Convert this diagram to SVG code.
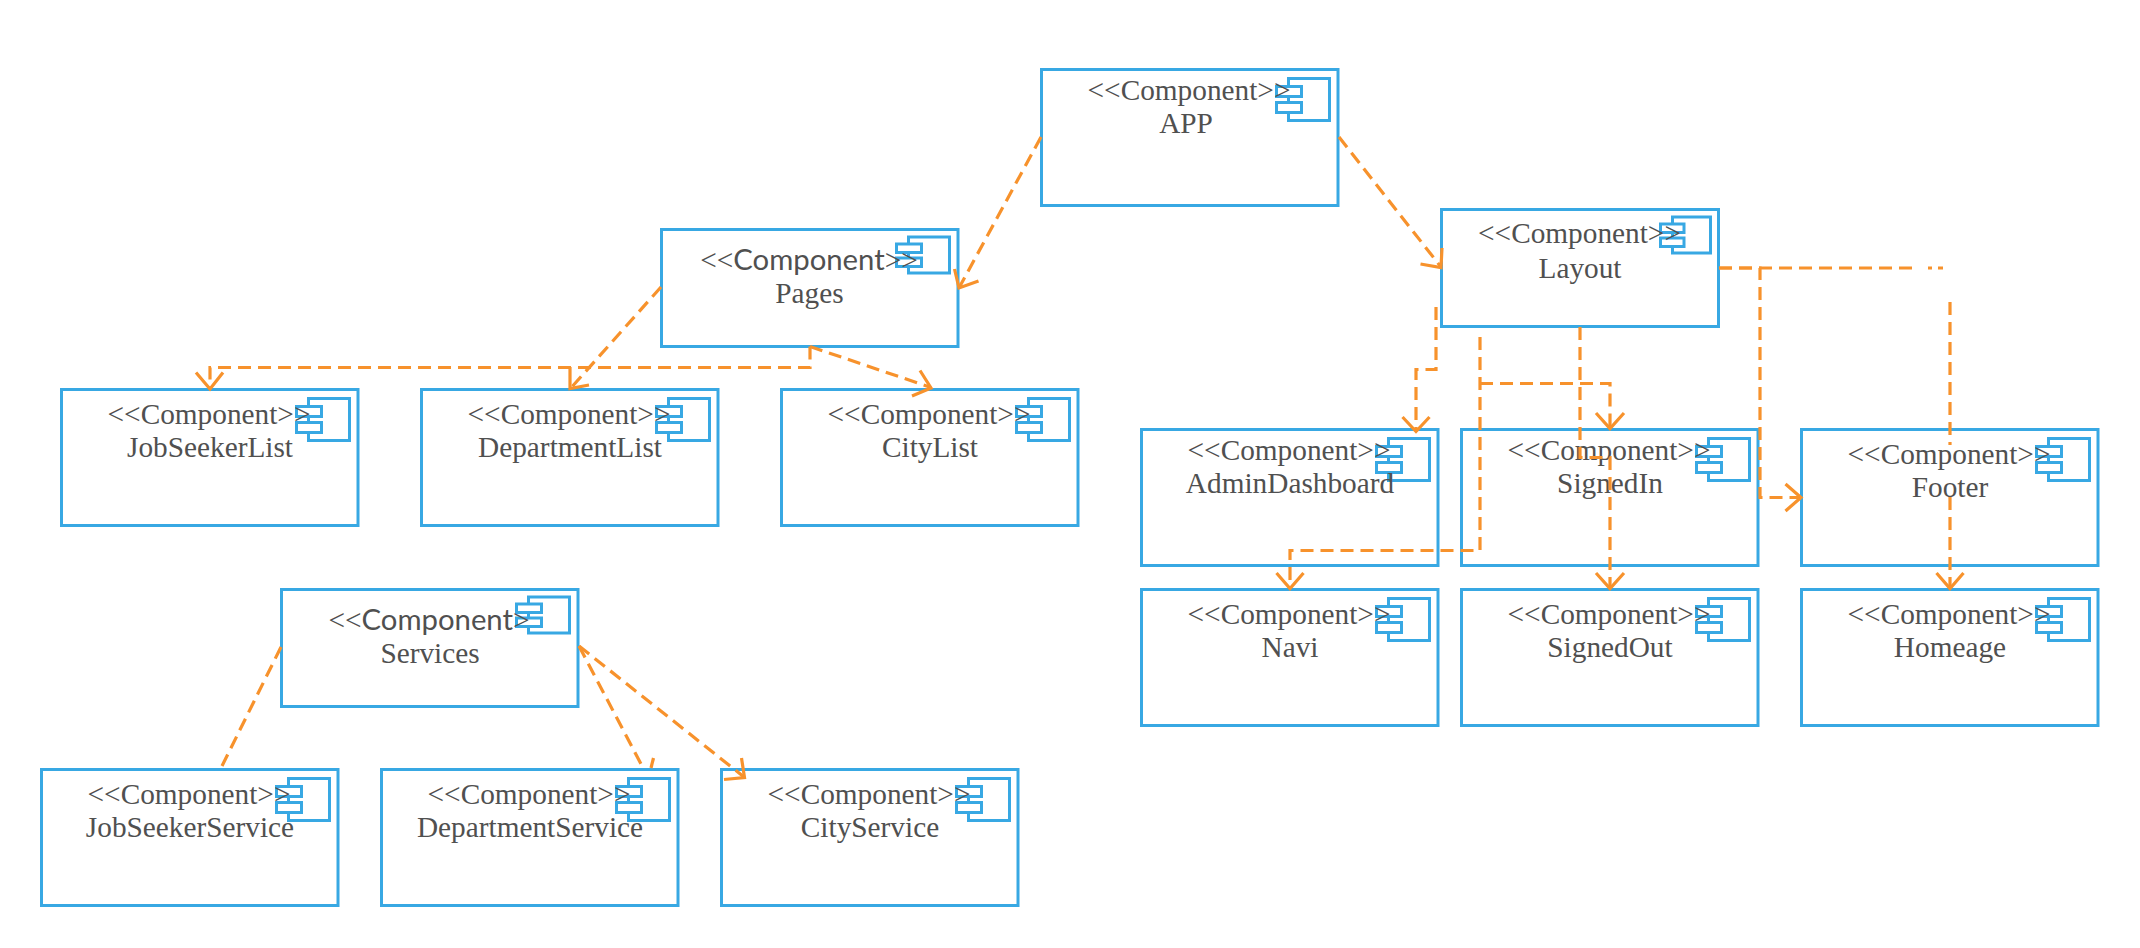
<svg xmlns="http://www.w3.org/2000/svg" width="2140" height="948" viewBox="0 0 2140 948">
<style>
.box{fill:none;stroke:#38a8e3;stroke-width:3}
.ic{fill:none;stroke:#38a8e3;stroke-width:3}
.sm{fill:#fff;stroke:#38a8e3;stroke-width:3}
text{font-family:"Liberation Serif","Times New Roman",serif;font-size:29.3px;fill:#505050;text-anchor:middle}
.sans{font-family:Lato,"Liberation Sans",sans-serif}
.dep{fill:none;stroke:#f7922c;stroke-width:3.2;stroke-dasharray:13 7}
.head{fill:none;stroke:#f7922c;stroke-width:3.2}
</style>
<defs>
<g id="icon"><rect class="ic" x="247" y="9" width="41" height="42"/><rect class="sm" x="235" y="17" width="25" height="10"/><rect class="sm" x="235" y="33" width="25" height="10"/></g>
<g id="iconS"><rect class="ic" x="247" y="7.5" width="41" height="36"/><rect class="sm" x="235" y="14.5" width="25" height="8.5"/><rect class="sm" x="235" y="28.5" width="25" height="8.5"/></g>
<g id="iconL"><rect class="ic" x="231" y="7.5" width="38" height="36"/><rect class="sm" x="219" y="14.5" width="23.5" height="8.5"/><rect class="sm" x="219" y="28.5" width="23.5" height="8.5"/></g>
</defs>
<g id="node-app"><rect class="box" x="1041.5" y="69.5" width="296.5" height="136"/><use href="#icon" x="1041.5" y="69.5"/><text x="1189" y="100">&lt;&lt;Component&gt;&gt;</text><text x="1186" y="133">APP</text></g>
<g id="node-pages"><rect class="box" x="661.5" y="229.5" width="296.5" height="117"/><use href="#iconS" x="661.5" y="229.5"/><text x="809" y="270">&lt;&lt;<tspan class="sans">Component</tspan>&gt;&gt;</text><text x="809.5" y="303">Pages</text></g>
<g id="node-layout"><rect class="box" x="1441.5" y="209.5" width="277" height="117"/><use href="#iconL" x="1441.5" y="209.5"/><text x="1579.5" y="243">&lt;&lt;Component&gt;&gt;</text><text x="1580" y="277.5">Layout</text></g>
<g id="node-jobseekerlist"><rect class="box" x="61.5" y="389.5" width="296.5" height="136"/><use href="#icon" x="61.5" y="389.5"/><text x="209" y="424">&lt;&lt;Component&gt;&gt;</text><text x="210" y="457">JobSeekerList</text></g>
<g id="node-departmentlist"><rect class="box" x="421.5" y="389.5" width="296.5" height="136"/><use href="#icon" x="421.5" y="389.5"/><text x="569" y="424">&lt;&lt;Component&gt;&gt;</text><text x="570" y="457">DepartmentList</text></g>
<g id="node-citylist"><rect class="box" x="781.5" y="389.5" width="296.5" height="136"/><use href="#icon" x="781.5" y="389.5"/><text x="929" y="424">&lt;&lt;Component&gt;&gt;</text><text x="930" y="457">CityList</text></g>
<g id="node-admindashboard"><rect class="box" x="1141.5" y="429.5" width="296.5" height="136"/><use href="#icon" x="1141.5" y="429.5"/><text x="1289" y="459.5">&lt;&lt;Component&gt;&gt;</text><text x="1290" y="493">AdminDashboard</text></g>
<g id="node-signedin"><rect class="box" x="1461.5" y="429.5" width="296.5" height="136"/><use href="#icon" x="1461.5" y="429.5"/><text x="1609" y="459.5">&lt;&lt;Component&gt;&gt;</text><text x="1610" y="493">SignedIn</text></g>
<g id="node-footer"><rect class="box" x="1801.5" y="429.5" width="296.5" height="136"/><use href="#icon" x="1801.5" y="429.5"/><text x="1949" y="464">&lt;&lt;Component&gt;&gt;</text><text x="1950" y="497">Footer</text></g>
<g id="node-navi"><rect class="box" x="1141.5" y="589.5" width="296.5" height="136"/><use href="#icon" x="1141.5" y="589.5"/><text x="1289" y="624">&lt;&lt;Component&gt;&gt;</text><text x="1290" y="657">Navi</text></g>
<g id="node-signedout"><rect class="box" x="1461.5" y="589.5" width="296.5" height="136"/><use href="#icon" x="1461.5" y="589.5"/><text x="1609" y="624">&lt;&lt;Component&gt;&gt;</text><text x="1610" y="657">SignedOut</text></g>
<g id="node-homeage"><rect class="box" x="1801.5" y="589.5" width="296.5" height="136"/><use href="#icon" x="1801.5" y="589.5"/><text x="1949" y="624">&lt;&lt;Component&gt;&gt;</text><text x="1950" y="657">Homeage</text></g>
<g id="node-services"><rect class="box" x="281.5" y="589.5" width="296.5" height="117"/><use href="#iconS" x="281.5" y="589.5"/><text x="429" y="630">&lt;&lt;<tspan class="sans">Component</tspan>&gt;</text><text x="430" y="663">Services</text></g>
<g id="node-jobseekerservice"><rect class="box" x="41.5" y="769.5" width="296.5" height="136"/><use href="#icon" x="41.5" y="769.5"/><text x="189" y="804">&lt;&lt;Component&gt;&gt;</text><text x="190" y="837">JobSeekerService</text></g>
<g id="node-departmentservice"><rect class="box" x="381.5" y="769.5" width="296.5" height="136"/><use href="#icon" x="381.5" y="769.5"/><text x="529" y="804">&lt;&lt;Component&gt;&gt;</text><text x="530" y="837">DepartmentService</text></g>
<g id="node-cityservice"><rect class="box" x="721.5" y="769.5" width="296.5" height="136"/><use href="#icon" x="721.5" y="769.5"/><text x="869" y="804">&lt;&lt;Component&gt;&gt;</text><text x="870" y="837">CityService</text></g>
<g id="connectors">
<path class="dep" d="M1041 137L959 288"/><path class="head" d="M954.5 269L959 288L978.5 281"/>
<path class="dep" d="M1339 137L1441 267"/><path class="head" d="M1420.5 264L1441 267.5L1442 248"/>
<path class="dep" d="M810 346.5V367.5H210V389"/><path class="head" d="M196 372.5L210 389L223 372.5"/>
<path class="dep" d="M661 287L570 389"/><path class="head" d="M570 367V388.5L589 385"/>
<path class="dep" d="M810 346.5L931 387.5"/><path class="head" d="M920 370.5L931 388L912 396"/>
<path class="dep" d="M1436 307V369.5H1416V431"/><path class="head" d="M1402.5 417L1416 431.5L1429.5 417"/>
<path class="dep" d="M1480 337V550.5H1290V588"/><path class="head" d="M1276.5 573L1290 588.5L1303.5 573"/>
<path class="dep" d="M1480 383.5H1610V428"/><path class="head" d="M1596 413L1610 428.5L1624 413"/>
<path class="dep" d="M1580 327V457.5H1610V588"/><path class="head" d="M1596 573L1610 588.5L1624 573"/>
<path class="dep" d="M1719 268H1760V497.5H1801"/><path class="head" d="M1785.5 484L1801 497.5L1785.5 511"/>
<path class="dep" d="M1719 268H1912M1928 268H1932M1938 268H1943"/>
<path class="dep" d="M1950 302V445M1950 497V588"/><path class="head" d="M1936.5 573L1950 588.5L1963.5 573"/>
<path class="dep" d="M281 647L222 766"/>
<path class="dep" d="M579 646L641 764"/><path class="head" d="M653.5 758L651 768"/>
<path class="dep" d="M579 646L744 777"/><path class="head" d="M741.5 758L744.5 777.5L724 779.5"/>
</g>
</svg>
